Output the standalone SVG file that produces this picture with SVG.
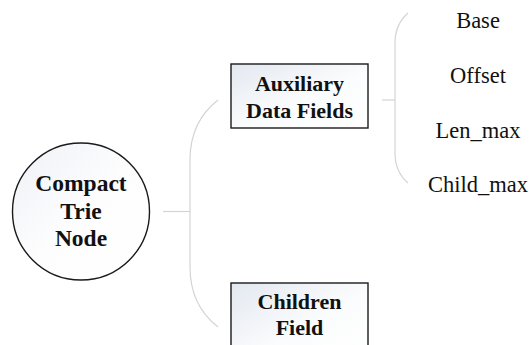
<svg xmlns="http://www.w3.org/2000/svg" width="531" height="345" viewBox="0 0 531 345">
<style>
.conn{fill:none;stroke:#d4d4d4;stroke-width:1.2}
.shape{stroke:#1a1a1a;stroke-width:1.4}
.bold{font-weight:bold;font-size:22px;fill:#111;text-anchor:middle}
.big{font-size:23.5px}
.leaf{font-size:22.5px;fill:#111;text-anchor:middle}
</style>
<defs>
<linearGradient id="g" x1="0" y1="0" x2="1" y2="1">
<stop offset="0" stop-color="#e3e8f0"/>
<stop offset="0.55" stop-color="#fbfcfd"/>
<stop offset="1" stop-color="#ffffff"/>
</linearGradient>
<linearGradient id="gc" x1="0" y1="0" x2="1" y2="1">
<stop offset="0" stop-color="#eef1f6"/>
<stop offset="0.5" stop-color="#fdfdfe"/>
<stop offset="1" stop-color="#ffffff"/>
</linearGradient>
</defs>
<rect width="531" height="345" fill="#ffffff"/>
<g id="connectors">
<path class="conn" d="M163,211.5 H190"/>
<path class="conn" d="M218,100 C200,114 190,134 190,160 L190,267 C190,293 200,313 218,327"/>
<path class="conn" d="M382,100 H395"/>
<path class="conn" d="M408,13 C400,20 395,30 395,43 L395,153 C395,166 400,176 408,183"/>
</g>
<g font-family="Liberation Serif, Times New Roman, serif">
<g id="root">
<circle class="shape" cx="81" cy="211.5" r="68.5" fill="url(#gc)"/>
<text class="bold big" x="81" y="191">Compact</text>
<text class="bold big" x="81" y="218.5">Trie</text>
<text class="bold big" x="81" y="246">Node</text>
</g>
<g id="aux">
<rect class="shape" x="231" y="64" width="137" height="64" fill="url(#g)"/>
<text class="bold" x="299.5" y="91">Auxiliary</text>
<text class="bold" x="299.5" y="118">Data Fields</text>
</g>
<g id="children">
<rect class="shape" x="231" y="283" width="137" height="80" fill="url(#g)"/>
<text class="bold" x="299.5" y="309">Children</text>
<text class="bold" x="299.5" y="335">Field</text>
</g>
<g id="base"><text class="leaf" x="478" y="28">Base</text></g>
<g id="offset"><text class="leaf" x="478" y="83">Offset</text></g>
<g id="lenmax"><text class="leaf" x="478" y="138">Len_max</text></g>
<g id="childmax"><text class="leaf" x="478" y="192">Child_max</text></g>
</g>
</svg>
